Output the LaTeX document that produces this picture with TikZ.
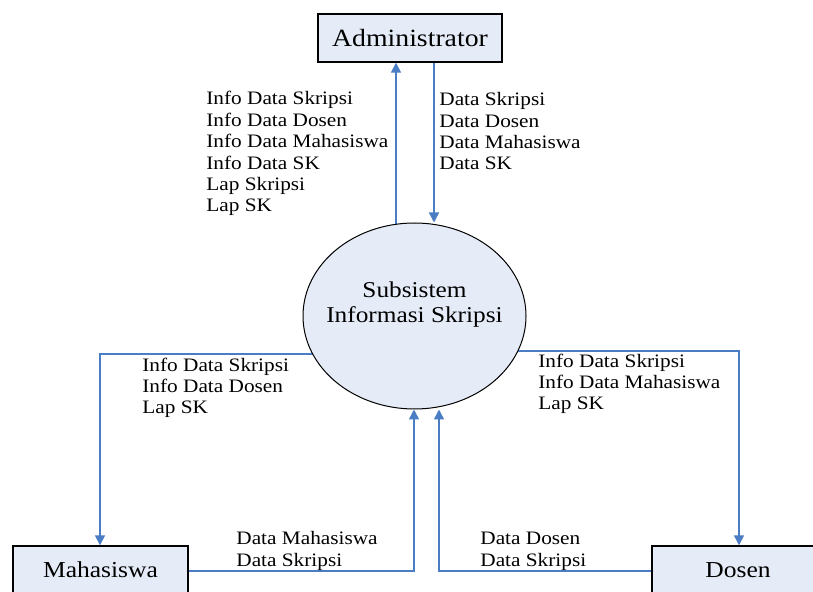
\documentclass[tikz,border=0pt]{standalone}
\usepackage{fontspec}
\setmainfont[FakeStretch=1.12]{Liberation Serif}
\usetikzlibrary{arrows.meta,backgrounds,shapes.geometric}
\definecolor{boxfill}{HTML}{E6ECF7}
\definecolor{flowblue}{HTML}{4A7DC4}
\begin{document}
\begin{tikzpicture}[x=0.5pt,y=-0.5pt,
  entity/.style={draw=black,line width=0.7pt,fill=boxfill,inner sep=0pt,font=\fontsize{11.4}{13}\selectfont},
  process/.style={draw=black,line width=0.5pt,fill=boxfill,ellipse,inner sep=0pt},
  proctext/.style={inner sep=0pt,align=center,font=\fontsize{11.3}{12.5}\selectfont},
  flow/.style={draw=flowblue,line width=0.75pt,-{Triangle[length=5pt,width=5pt]}},
  lbl/.style={anchor=base west,inner sep=0pt,align=left,font=\fontsize{9.5}{10.7}\selectfont}]
\useasboundingbox (0,0) rectangle (813,592);
\node[entity,minimum width=92pt,minimum height=24pt,font=\fontsize{12.4}{14}\selectfont] (adm) at (410,38) {Administrator};
\node[process,minimum width=111.5pt,minimum height=93pt] (sis) at (414.5,316) {};
\node[proctext] (sist) at (414.5,305) {Subsistem\\Informasi Skripsi};
\node[entity,minimum width=87.5pt,minimum height=24pt] (mhs) at (100.5,570) {Mahasiswa};
\node[entity,minimum width=86pt,minimum height=24pt] (dsn) at (738,570) {Dosen};
\coordinate (u) at (396,0);
\coordinate (d) at (434,0);
\coordinate (lb) at (100,354);
\coordinate (rb) at (739,351);
\coordinate (mb) at (414,571);
\coordinate (db) at (439,571);
\begin{scope}[on background layer]
\draw[flow,shorten <=-3pt] (sis.north -| u) -- (adm.south -| u);
\draw[flow] (adm.south -| d) -- (sis.north -| d);
\draw[flow] (sis.center |- lb) -- (lb) -- (mhs.north -| lb);
\draw[flow] (sis.center |- rb) -- (rb) -- (dsn.north -| rb);
\draw[flow] (mhs.east |- mb) -- (mb) -- (sis.south -| mb);
\draw[flow] (dsn.west |- db) -- (db) -- (sis.south -| db);
\end{scope}
% base anchor of a multi-line node = baseline of its last line
\node[lbl] (ladm) at (206,212) {Info Data Skripsi\\Info Data Dosen\\Info Data Mahasiswa\\Info Data SK\\Lap Skripsi\\Lap SK};
\node[lbl] (radm) at (439,170) {Data Skripsi\\Data Dosen\\Data Mahasiswa\\Data SK};
\node[lbl] (lmhs) at (142,414) {Info Data Skripsi\\Info Data Dosen\\Lap SK};
\node[lbl] (ldsn) at (538,410) {Info Data Skripsi\\Info Data Mahasiswa\\Lap SK};
\node[lbl] (dmhs) at (236,566) {Data Mahasiswa\\Data Skripsi};
\node[lbl] (ddsn) at (480,566) {Data Dosen\\Data Skripsi};
\end{tikzpicture}
\end{document}
